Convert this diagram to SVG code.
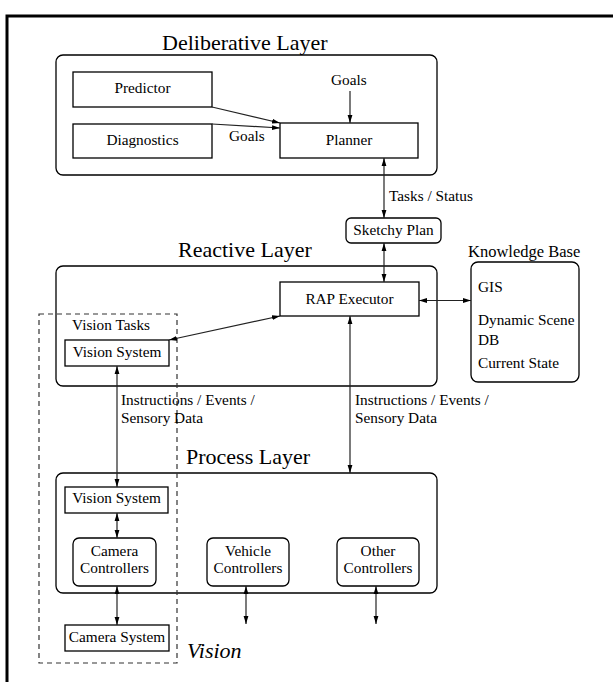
<svg xmlns="http://www.w3.org/2000/svg" width="613" height="682" viewBox="0 0 613 682">
  <style>
    text { font-family: "Liberation Serif", "Times New Roman", serif; fill: #000; }
    .lbl { font-size: 15.3px; }
    .mid { text-anchor: middle; }
    .title { font-size: 22px; }
    .kb { font-size: 16.5px; }
    .box { fill: #fff; stroke: #000; stroke-width: 1.3; }
    .layer { fill: none; stroke: #000; stroke-width: 1.3; }
    .link { fill: none; stroke: #222; stroke-width: 1.2; }
    .dash { fill: none; stroke: #333; stroke-width: 1.2; stroke-dasharray: 5 4; }
  </style>
  <defs>
    <marker id="head" viewBox="0 0 8 6" refX="8" refY="3" markerWidth="8" markerHeight="6" markerUnits="userSpaceOnUse" orient="auto-start-reverse">
      <path d="M0,0.6 L8,3 L0,5.4 z" fill="#000"/>
    </marker>
  </defs>
  <rect width="613" height="682" fill="#fff"/>

  <!-- page frame -->
  <path d="M7,682 V16 H613" fill="none" stroke="#000" stroke-width="3"/>

  <!-- layers -->
  <g id="deliberative-layer">
    <rect class="layer" x="56" y="55" width="381" height="120" rx="7"/>
    <text class="title" x="162" y="50">Deliberative Layer</text>
  </g>
  <g id="reactive-layer">
    <rect class="layer" x="56" y="266" width="381" height="120" rx="7"/>
    <text class="title" x="178" y="257">Reactive Layer</text>
  </g>
  <g id="process-layer">
    <rect class="layer" x="56" y="473" width="381" height="120" rx="7"/>
    <text class="title" x="186" y="464">Process Layer</text>
  </g>

  <!-- vision subsystem outline -->
  <g id="vision-group">
    <rect class="dash" x="39" y="314" width="138" height="349"/>
    <text x="187" y="658" style="font-size:22px;font-style:italic">Vision</text>
    <text class="lbl" x="72" y="330">Vision Tasks</text>
  </g>

  <!-- deliberative nodes -->
  <g id="predictor">
    <rect class="box" x="73" y="72" width="139" height="35"/>
    <text class="lbl mid" x="142.5" y="93">Predictor</text>
  </g>
  <g id="diagnostics">
    <rect class="box" x="73" y="124" width="139" height="34"/>
    <text class="lbl mid" x="142.5" y="145">Diagnostics</text>
  </g>
  <g id="planner">
    <rect class="box" x="280" y="123" width="138" height="35"/>
    <text class="lbl mid" x="349" y="145">Planner</text>
  </g>

  <g id="sketchy-plan">
    <rect class="box" x="346" y="218" width="95" height="25" rx="5"/>
    <text class="lbl mid" x="393.5" y="235">Sketchy Plan</text>
  </g>

  <!-- reactive nodes -->
  <g id="rap-executor">
    <rect class="box" x="280" y="282" width="139" height="34"/>
    <text class="lbl mid" x="349.5" y="304">RAP Executor</text>
  </g>
  <g id="vision-system-reactive">
    <rect class="box" x="65" y="340" width="104" height="26"/>
    <text class="lbl mid" x="117" y="357">Vision System</text>
  </g>

  <g id="knowledge-base">
    <rect class="box" x="471" y="262" width="108" height="120" rx="7"/>
    <text class="kb" x="468" y="257">Knowledge Base</text>
    <text class="lbl" x="478" y="292">GIS</text>
    <text class="lbl" x="478" y="325">Dynamic Scene</text>
    <text class="lbl" x="478" y="345">DB</text>
    <text class="lbl" x="478" y="368">Current State</text>
  </g>

  <!-- process nodes -->
  <g id="vision-system-process">
    <rect class="box" x="65" y="487" width="103" height="26"/>
    <text class="lbl mid" x="116.5" y="503">Vision System</text>
  </g>
  <g id="camera-controllers">
    <rect class="box" x="73" y="538" width="83" height="48" rx="6"/>
    <text class="lbl mid" x="114.5" y="556">Camera</text>
    <text class="lbl mid" x="114.5" y="573">Controllers</text>
  </g>
  <g id="vehicle-controllers">
    <rect class="box" x="207" y="538" width="82" height="48" rx="6"/>
    <text class="lbl mid" x="248" y="556">Vehicle</text>
    <text class="lbl mid" x="248" y="573">Controllers</text>
  </g>
  <g id="other-controllers">
    <rect class="box" x="337" y="538" width="82" height="48" rx="6"/>
    <text class="lbl mid" x="378" y="556">Other</text>
    <text class="lbl mid" x="378" y="573">Controllers</text>
  </g>
  <g id="camera-system">
    <rect class="box" x="65" y="625" width="104" height="26"/>
    <text class="lbl mid" x="117" y="642">Camera System</text>
  </g>

  <!-- connectors -->
  <g id="connectors">
    <line class="link" x1="212" y1="107" x2="280" y2="123" marker-end="url(#head)"/>
    <line class="link" x1="212" y1="124" x2="280" y2="128" marker-end="url(#head)"/>
    <line class="link" x1="350" y1="91" x2="350" y2="123" marker-end="url(#head)"/>
    <line class="link" x1="384" y1="158" x2="384" y2="218" marker-start="url(#head)" marker-end="url(#head)"/>
    <line class="link" x1="384" y1="243" x2="384" y2="282" marker-start="url(#head)" marker-end="url(#head)"/>
    <line class="link" x1="419" y1="300.5" x2="471" y2="300.5" marker-start="url(#head)" marker-end="url(#head)"/>
    <line class="link" x1="280" y1="316" x2="169" y2="340" marker-start="url(#head)" marker-end="url(#head)"/>
    <line class="link" x1="117" y1="366" x2="117" y2="487" marker-start="url(#head)" marker-end="url(#head)"/>
    <line class="link" x1="350" y1="316" x2="350" y2="473" marker-start="url(#head)" marker-end="url(#head)"/>
    <line class="link" x1="117" y1="513" x2="117" y2="538" marker-start="url(#head)" marker-end="url(#head)"/>
    <line class="link" x1="117" y1="586" x2="117" y2="625" marker-start="url(#head)" marker-end="url(#head)"/>
    <line class="link" x1="246" y1="586" x2="246" y2="624" marker-start="url(#head)" marker-end="url(#head)"/>
    <line class="link" x1="376" y1="586" x2="376" y2="624" marker-start="url(#head)" marker-end="url(#head)"/>

    <text class="lbl" x="331" y="85">Goals</text>
    <text class="lbl" x="229" y="141">Goals</text>
    <text class="lbl" x="389" y="201">Tasks / Status</text>
    <text class="lbl" x="121" y="405">Instructions / Events /</text>
    <text class="lbl" x="121" y="423">Sensory Data</text>
    <text class="lbl" x="355" y="405">Instructions / Events /</text>
    <text class="lbl" x="355" y="423">Sensory Data</text>
  </g>
</svg>
